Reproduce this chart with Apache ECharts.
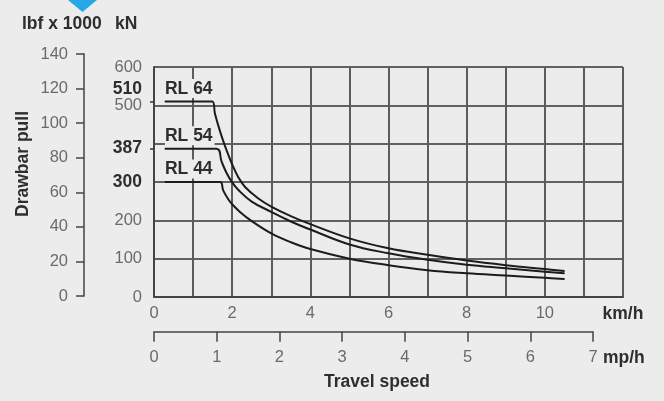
<!DOCTYPE html>
<html>
<head>
<meta charset="utf-8">
<script src="https://cdn.jsdelivr.net/npm/echarts@6/dist/echarts.min.js"></script>
<style>
html,body{margin:0;padding:0;background:#ececec;}
#chart{width:664px;height:401px;}
</style>
</head>
<body>
<div id="chart"></div>
<script>
// Travel speed (km/h) and drawbar pull (kN) for each model
const speedRL64 = [0.28, 1.49, 1.56, 1.69, 1.82, 2.0, 2.16, 2.33, 2.67, 3.0, 3.5, 4, 5, 6, 7, 8, 9, 10, 10.5];
const pullRL64  = [510, 510, 478, 432, 393, 346, 312, 287, 257, 236, 211, 190, 153, 127, 110, 95, 83, 73, 68];
const speedRL54 = [0.28, 1.6, 1.73, 1.86, 2.0, 2.16, 2.5, 3.0, 3.5, 4, 5, 6, 7, 8, 9, 10, 10.5];
const pullRL54  = [387, 387, 353, 323, 299, 279, 249, 222, 197, 176, 137, 114, 97, 84, 75, 66, 62];
const speedRL44 = [0.28, 1.69, 1.77, 1.9, 2.0, 2.2, 2.5, 3, 3.5, 4, 5, 6, 7, 8, 9, 10, 10.5];
const pullRL44  = [300, 300, 278, 255, 242, 222, 198, 166, 143, 125, 100, 83, 70, 62, 56, 50, 47];
const seriesNames = ['RL 64', 'RL 54', 'RL 44'];

// Axis ticks / labels
const kmhLabels = [0, 2, 4, 6, 8, 10, 12];
const kmhUnitAt = 12;
const kNLabels = [0, 100, 200, 300, 387, 500, 600];
const kNBold = [300, 387, 510];
const kNUpper = [510];
const kNMarks = [387, 510];
const lbfMax = 140, lbfStep = 20;
const mphMax = 7, mphStep = 1;

const GRAY = '#6a6a6a', DARK = '#2e2e2e', FONT = 'Liberation Sans, Arial, sans-serif';
const BG = '#ececec';
const FS = 16.5, FSB = 17.5;

function pairs(xs, ys) { return xs.map((x, i) => [x, ys[i]]); }
function mkSeries(name, xs, ys) {
  const d = pairs(xs, ys).map((p, i) => i === 0 ? {
    value: p,
    label: { show: true, formatter: name, position: 'top', align: 'left', distance: 3,
      color: DARK, fontWeight: 'bold', fontSize: FSB, fontFamily: FONT,
      backgroundColor: BG, padding: [1, 2, 0, 0] }
  } : p);
  return {
    type: 'line', name: name, xAxisIndex: 0, yAxisIndex: 0, data: d,
    smooth: 0.4, symbol: 'circle', symbolSize: 1, showSymbol: true,
    itemStyle: { color: '#1c1c1c' }, lineStyle: { color: '#1c1c1c', width: 2 },
    silent: true, z: 5
  };
}

const hiddenParts = { axisLine: { show: false }, axisTick: { show: false }, axisLabel: { show: false }, splitLine: { show: false } };

const chart = echarts.init(document.getElementById('chart'), null, { renderer: 'canvas' });
const lbl = { color: GRAY, fontSize: FS, fontFamily: FONT };
const rich = { b: { color: DARK, fontWeight: 'bold', fontSize: FSB, fontFamily: FONT } };
const boldText = { color: DARK, fontWeight: 'bold', fontSize: FSB, fontFamily: FONT };

chart.setOption({
  backgroundColor: BG,
  animation: false,
  title: [
    { text: 'lbf x 1000', left: 22, top: 15, padding: 0, textStyle: boldText },
    { text: 'kN', left: 115, top: 15, padding: 0, textStyle: boldText },
    { text: 'mp/h', left: 603, top: 349, padding: 0, textStyle: boldText },
    { text: 'Travel speed', left: 324, top: 373, padding: 0, textStyle: boldText }
  ],
  graphic: [{ type: 'polygon', shape: { points: [[68, 0], [97, 0], [82.5, 12]] }, style: { fill: '#22a9e6' } }],
  grid: [
    { left: 154, top: 67, width: 469, height: 230 },
    { left: 84, top: 54, width: 1, height: 242 },
    { left: 154, top: 320, width: 439, height: 11.7 }
  ],
  xAxis: [
    { gridIndex: 0, type: 'value', position: 'bottom', min: 0, max: 12, interval: 1,
      axisLine: { lineStyle: { color: '#444', width: 2 } }, axisTick: { show: false },
      splitLine: { lineStyle: { color: '#5c5c5c', width: 2 } },
      axisLabel: Object.assign({}, lbl, { customValues: kmhLabels, margin: 8, rich: rich,
        formatter: v => v === kmhUnitAt ? '{b|km/h}' : String(v) }) },
    Object.assign({ gridIndex: 1, type: 'value', position: 'bottom', min: 0, max: 1 }, hiddenParts),
    { gridIndex: 2, type: 'value', position: 'bottom', min: 0, max: mphMax, interval: mphStep,
      axisLine: { lineStyle: { color: '#444', width: 1.5 } },
      axisTick: { length: 10, lineStyle: { color: '#444', width: 1.5 } },
      splitLine: { show: false },
      axisLabel: Object.assign({}, lbl, { margin: 17 }) }
  ],
  yAxis: [
    { gridIndex: 0, type: 'value', position: 'left', min: 0, max: 600, interval: 100,
      axisLine: { show: true, lineStyle: { color: '#444', width: 2 } }, axisTick: { show: false },
      splitLine: { lineStyle: { color: '#333', width: 1.5 } },
      axisLabel: Object.assign({}, lbl, { customValues: kNLabels, margin: 12, rich: rich,
        formatter: v => kNBold.includes(v) ? '{b|' + v + '}' : String(v) }) },
    { gridIndex: 0, type: 'value', position: 'left', min: 0, max: 600,
      axisLine: { show: false }, splitLine: { show: false },
      axisTick: { show: true, customValues: kNMarks, length: 4, lineStyle: { color: '#333', width: 1.5 } },
      axisLabel: Object.assign({}, lbl, { customValues: kNUpper, margin: 12, rich: rich, padding: [0, 0, 24, 0],
        formatter: v => '{b|' + v + '}' }) },
    { gridIndex: 1, type: 'value', position: 'left', min: 0, max: lbfMax, interval: lbfStep,
      axisLine: { show: true, lineStyle: { color: '#444', width: 1.5 } },
      axisTick: { length: 8, lineStyle: { color: '#444', width: 1.5 } },
      splitLine: { show: false },
      axisLabel: Object.assign({}, lbl, { margin: 16 }),
      name: 'Drawbar pull', nameLocation: 'middle', nameRotate: 90, nameGap: 52,
      nameTextStyle: Object.assign({}, boldText, { padding: [0, 0, 0, 22] }) },
    Object.assign({ gridIndex: 2, type: 'value', position: 'left', min: 0, max: 1 }, hiddenParts)
  ],
  series: [
    mkSeries(seriesNames[0], speedRL64, pullRL64),
    mkSeries(seriesNames[1], speedRL54, pullRL54),
    mkSeries(seriesNames[2], speedRL44, pullRL44)
  ]
});
</script>
</body>
</html>
